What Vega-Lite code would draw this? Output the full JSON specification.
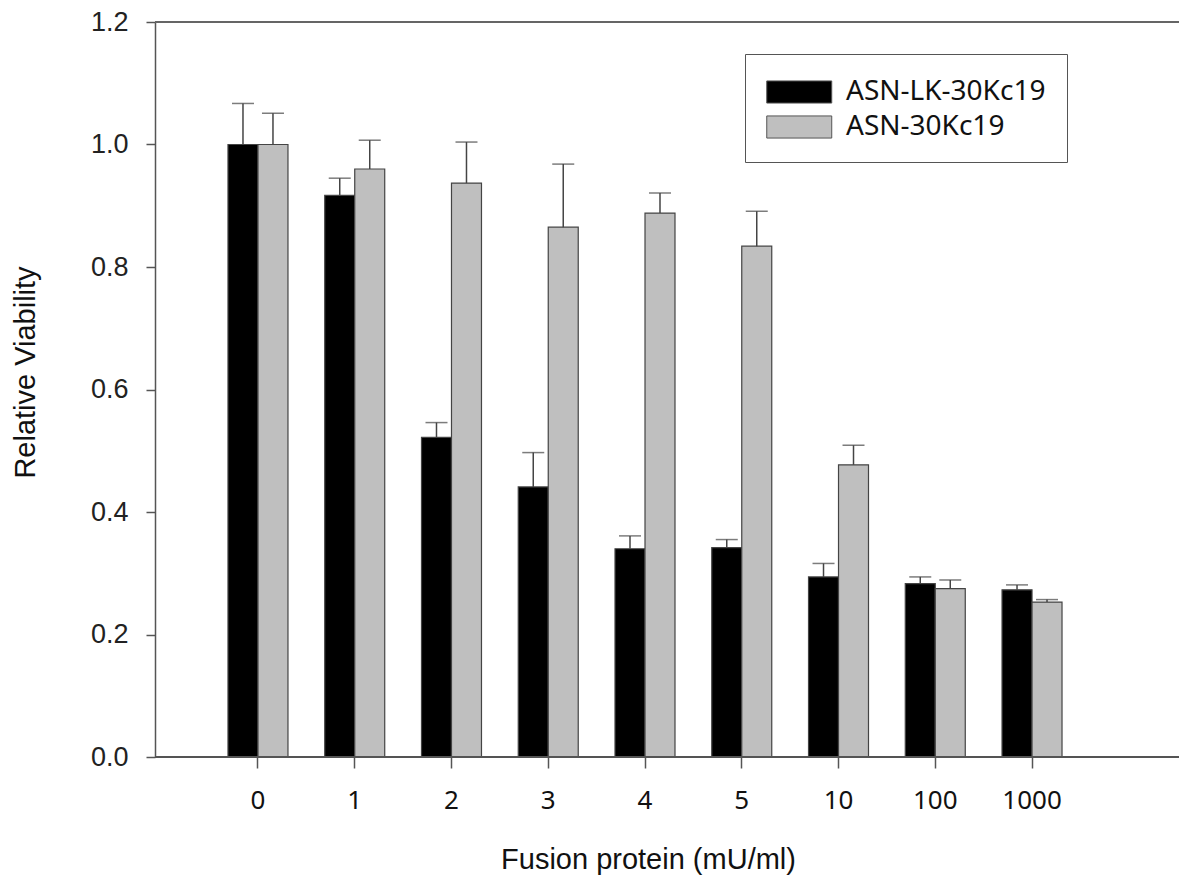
{
  "$schema": "https://vega.github.io/schema/vega-lite/v6.json",
  "width": 1024,
  "height": 735,
  "autosize": {"type": "none"},
  "padding": {"left": 155, "top": 22, "right": 0, "bottom": 126},
  "background": "white",
  "config": {"view": {"stroke": null}},
  "data": {
    "values": [
      {"conc": "0", "series": "ASN-LK-30Kc19", "value": 1.0, "upper": 1.067},
      {"conc": "0", "series": "ASN-30Kc19", "value": 1.0, "upper": 1.051},
      {"conc": "1", "series": "ASN-LK-30Kc19", "value": 0.917, "upper": 0.945},
      {"conc": "1", "series": "ASN-30Kc19", "value": 0.960, "upper": 1.007},
      {"conc": "2", "series": "ASN-LK-30Kc19", "value": 0.522, "upper": 0.546},
      {"conc": "2", "series": "ASN-30Kc19", "value": 0.937, "upper": 1.004},
      {"conc": "3", "series": "ASN-LK-30Kc19", "value": 0.441, "upper": 0.497},
      {"conc": "3", "series": "ASN-30Kc19", "value": 0.865, "upper": 0.968},
      {"conc": "4", "series": "ASN-LK-30Kc19", "value": 0.340, "upper": 0.361},
      {"conc": "4", "series": "ASN-30Kc19", "value": 0.888, "upper": 0.921},
      {"conc": "5", "series": "ASN-LK-30Kc19", "value": 0.342, "upper": 0.355},
      {"conc": "5", "series": "ASN-30Kc19", "value": 0.834, "upper": 0.891},
      {"conc": "10", "series": "ASN-LK-30Kc19", "value": 0.294, "upper": 0.316},
      {"conc": "10", "series": "ASN-30Kc19", "value": 0.477, "upper": 0.509},
      {"conc": "100", "series": "ASN-LK-30Kc19", "value": 0.283, "upper": 0.294},
      {"conc": "100", "series": "ASN-30Kc19", "value": 0.275, "upper": 0.289},
      {"conc": "1000", "series": "ASN-LK-30Kc19", "value": 0.273, "upper": 0.281},
      {"conc": "1000", "series": "ASN-30Kc19", "value": 0.253, "upper": 0.257}
    ]
  },
  "encoding": {
    "x": {
      "field": "conc",
      "type": "nominal",
      "scale": {
        "domain": ["0", "1", "2", "3", "4", "5", "10", "100", "1000"],
        "range": [54.6, 925.4],
        "paddingInner": 0.38,
        "paddingOuter": 0.19
      },
      "axis": {
        "title": "Fusion protein (mU/ml)",
        "domain": false,
        "labelAngle": 0,
        "labelFont": "Noto Sans",
        "labelFontSize": 26,
        "labelColor": "#111",
        "labelPadding": 19,
        "tickSize": 11,
        "tickColor": "#555",
        "tickWidth": 1.5,
        "titleFont": "Liberation Sans",
        "titleFontSize": 29,
        "titleFontWeight": "normal",
        "titleColor": "#111",
        "titleX": 493,
        "titleY": 111,
        "titleBaseline": "alphabetic",
        "titleAnchor": null,
        "titleAlign": "center"
      }
    },
    "xOffset": {
      "field": "series",
      "type": "nominal",
      "scale": {"domain": ["ASN-LK-30Kc19", "ASN-30Kc19"], "paddingInner": 0, "paddingOuter": 0}
    }
  },
  "layer": [
    {
      "mark": {"type": "bar", "stroke": "#444", "strokeWidth": 1.2},
      "encoding": {
        "y": {
          "field": "value",
          "type": "quantitative",
          "scale": {"domain": [0, 1.2], "nice": false, "zero": true},
          "axis": {
            "title": "Relative Viability",
            "values": [0, 0.2, 0.4, 0.6, 0.8, 1.0, 1.2],
            "format": ".1f",
            "grid": false,
            "domainColor": "#555",
            "domainWidth": 1.5,
            "tickColor": "#555",
            "tickWidth": 1.5,
            "tickSize": 9,
            "labelPadding": 18,
            "labelFont": "Liberation Sans",
            "labelFontSize": 27,
            "labelColor": "#222",
            "titleFont": "Liberation Sans",
            "titleFontSize": 29,
            "titleFontWeight": "normal",
            "titleColor": "#111",
            "titleX": -130,
            "titleY": 350,
            "titleAngle": -90,
            "titleBaseline": "middle",
            "titleAlign": "center",
            "titleAnchor": null
          }
        },
        "color": {
          "field": "series",
          "type": "nominal",
          "scale": {"domain": ["ASN-LK-30Kc19", "ASN-30Kc19"], "range": ["#000000", "#bfbfbf"]},
          "legend": {
            "title": null,
            "orient": "none",
            "legendX": 590,
            "legendY": 32,
            "padding": 21,
            "strokeColor": "#555",
            "fillColor": "white",
            "symbolType": "M-1,-0.68H3V0.68H-1Z",
            "symbolSize": 1056,
            "symbolStrokeColor": "#555",
            "symbolStrokeWidth": 1,
            "symbolOpacity": 1,
            "labelFont": "Noto Sans",
            "labelFontSize": 28,
            "labelColor": "#111",
            "labelOffset": 46,
            "labelLimit": 400,
            "rowPadding": 4
          }
        }
      }
    },
    {
      "mark": {"type": "rule", "color": "#444", "strokeWidth": 1.5},
      "encoding": {
        "y": {"field": "value", "type": "quantitative"},
        "y2": {"field": "upper"}
      }
    },
    {
      "mark": {"type": "tick", "color": "#444", "size": 22, "thickness": 1.5},
      "encoding": {
        "y": {"field": "upper", "type": "quantitative"}
      }
    },
    {
      "mark": {"type": "rule", "color": "#555", "strokeWidth": 1.5},
      "encoding": {"y": {"datum": 0}, "x": null, "xOffset": null}
    },
    {
      "mark": {"type": "rule", "color": "#666", "strokeWidth": 1.5},
      "encoding": {"y": {"datum": 1.2}, "x": null, "xOffset": null}
    }
  ]
}
